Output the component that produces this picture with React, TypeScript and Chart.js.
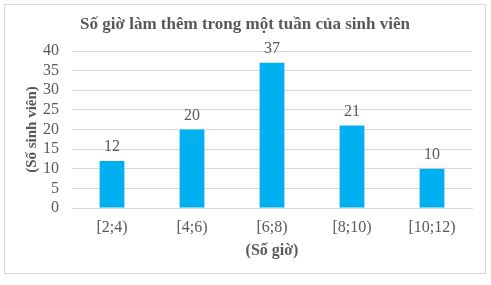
import React, { useEffect, useRef } from "react";
import { Chart, registerables } from "chart.js";

Chart.register(...registerables);

const chartTitle = "Số giờ làm thêm trong một tuần của sinh viên";
const categories = ["[2;4)", "[4;6)", "[6;8)", "[8;10)", "[10;12)"];
const studentCounts = [12, 20, 37, 21, 10];
const yTicks = [0, 5, 10, 15, 20, 25, 30, 35, 40];

const FONT = "'Times New Roman', 'Liberation Serif', serif";
const TEXT = "#595959";
const GRID = "#D9D9D9";

// White background, outer border and the centred title.
const frame = {
  id: "frame",
  beforeDraw(chart: any) {
    const { ctx, width, height } = chart;
    ctx.save();
    ctx.fillStyle = "#ffffff";
    ctx.fillRect(0, 0, width, height);
    ctx.strokeStyle = GRID;
    ctx.lineWidth = 1;
    ctx.strokeRect(4.5, 4.5, 481, 269);
    ctx.font = `bold 17px ${FONT}`;
    ctx.fillStyle = TEXT;
    ctx.textAlign = "center";
    ctx.textBaseline = "middle";
    ctx.fillText(chartTitle, 245, 25);
    ctx.restore();
  },
};

// Value printed above each bar.
const valueLabels = {
  id: "valueLabels",
  afterDatasetsDraw(chart: any) {
    const { ctx } = chart;
    const meta = chart.getDatasetMeta(0);
    ctx.save();
    ctx.font = `16px ${FONT}`;
    ctx.fillStyle = TEXT;
    ctx.textAlign = "center";
    ctx.textBaseline = "middle";
    meta.data.forEach((bar: any, i: number) => {
      ctx.fillText(String(studentCounts[i]), bar.x, bar.y - 14);
    });
    ctx.restore();
  },
};

export default function App() {
  const ref = useRef<HTMLCanvasElement>(null);

  useEffect(() => {
    const chart = new Chart(ref.current!, {
      type: "bar",
      data: {
        labels: categories,
        datasets: [
          {
            data: studentCounts,
            backgroundColor: "#00B0F0",
            barPercentage: 0.31,
            categoryPercentage: 1,
          },
        ],
      },
      options: {
        animation: false,
        responsive: false,
        layout: { padding: { left: 4, right: 19, top: 51, bottom: 23 } },
        plugins: {
          legend: { display: false },
          tooltip: { enabled: false },
          title: { display: false },
        },
        scales: {
          x: {
            grid: { display: false, drawTicks: false },
            border: { display: true, color: GRID },
            ticks: {
              color: TEXT,
              font: { family: FONT, size: 16 },
              padding: 10,
              maxRotation: 0,
            },
            title: {
              display: true,
              text: "(Số giờ)",
              color: TEXT,
              font: { family: FONT, size: 16, weight: "bold", lineHeight: 1.2 },
              padding: { top: 0, bottom: 2 },
            },
            afterFit(scale: any) {
              scale.height = 54;
            },
          },
          y: {
            min: 0,
            max: 40,
            afterBuildTicks(scale: any) {
              scale.ticks = yTicks.map((v) => ({ value: v }));
            },
            grid: { color: GRID, drawTicks: false },
            border: { display: false },
            ticks: {
              color: TEXT,
              font: { family: FONT, size: 16 },
              padding: 13,
              autoSkip: false,
            },
            title: {
              display: true,
              text: "(Số sinh viên)",
              color: TEXT,
              font: { family: FONT, size: 15, weight: "bold", lineHeight: 1.2 },
              padding: { top: 19, bottom: 0 },
            },
            afterFit(scale: any) {
              scale.width = 68;
            },
          },
        },
      },
      plugins: [frame, valueLabels],
    });
    return () => chart.destroy();
  }, []);

  return (
    <div style={{ position: "fixed", left: 0, top: 0, width: 491, height: 285, background: "#fff" }}>
      <canvas ref={ref} width={491} height={285} style={{ display: "block" }} />
    </div>
  );
}
